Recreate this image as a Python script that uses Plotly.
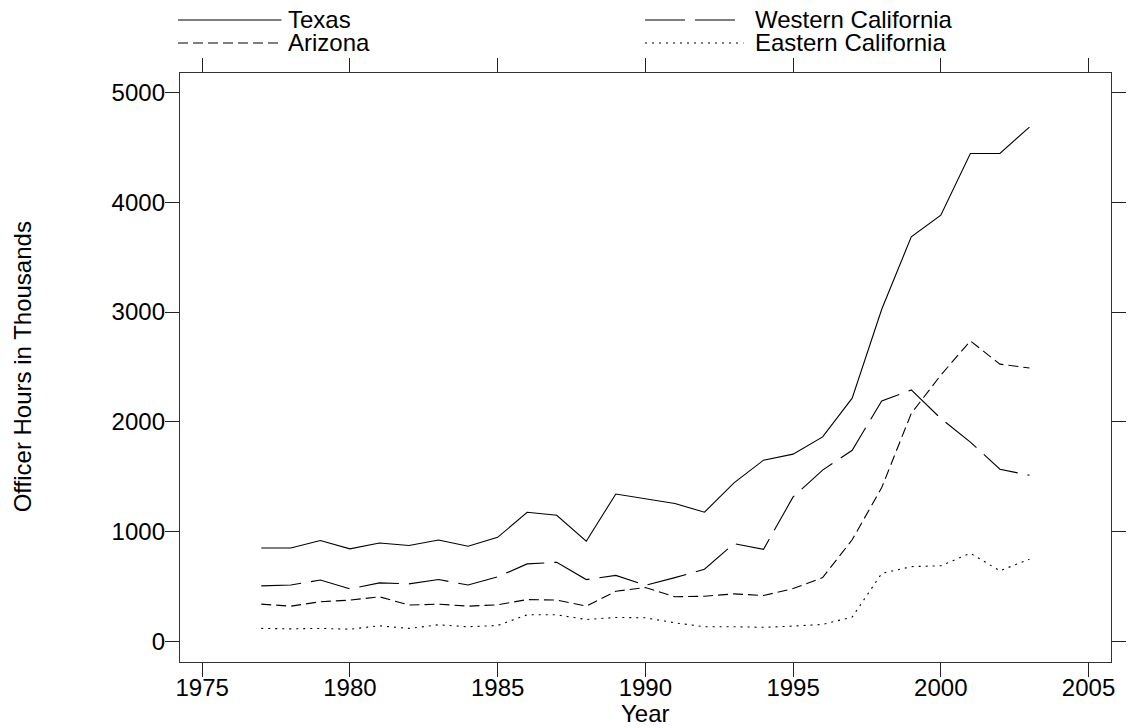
import plotly.graph_objects as go

years = list(range(1977, 2004))
texas = [850, 850, 918, 842, 895, 872, 922, 866, 947, 1175, 1148, 912, 1342, 1300, 1255,
         1176, 1443, 1650, 1705, 1862, 2215, 3025, 3685, 3882, 4445, 4445, 4685]
western_ca = [505, 513, 558, 477, 532, 523, 562, 513, 587, 705, 720, 562, 600, 510, 580,
              656, 890, 838, 1315, 1560, 1740, 2190, 2290, 2030, 1815, 1568, 1512]
arizona = [338, 320, 360, 375, 405, 330, 338, 320, 332, 380, 375, 320, 455, 490, 405,
           410, 432, 417, 480, 580, 925, 1400, 2076, 2425, 2737, 2525, 2490]
eastern_ca = [117, 113, 117, 110, 141, 117, 150, 132, 144, 241, 241, 198, 217, 214, 168,
              132, 132, 127, 138, 153, 220, 618, 680, 688, 802, 642, 748]

x_ticks = [1975, 1980, 1985, 1990, 1995, 2000, 2005]
y_ticks = [0, 1000, 2000, 3000, 4000, 5000]

series = [
    ("Texas", texas, "solid"),
    ("Arizona", arizona, "10px,5px"),
    ("Western California", western_ca, "40px,10px"),
    ("Eastern California", eastern_ca, "2px,5px"),
]

W, H = 1138, 728
L, R, T, B = 180, 1125, 73, 662
FONT = "Liberation Sans, Arial, Helvetica, sans-serif"
XR = [1974.25, 2005.76]
YR = [-189, 5178]

fig = go.Figure()
for name, vals, dash in series:
    fig.add_trace(go.Scatter(x=years, y=vals, mode="lines", name=name,
                             line=dict(color="black", width=1.1, dash=dash),
                             showlegend=False))
# empty trace to hold the label-only overlay axes
fig.add_trace(go.Scatter(x=[None], y=[None], xaxis="x2", yaxis="y2", mode="lines",
                         showlegend=False, hoverinfo="skip"))

def px2paper(px, py):
    return (px - L) / (R - L), (B - py) / (B - T)

# custom lattice-style legend
legend_items = [
    ("Texas", "solid", 178, 283, 288, 20),
    ("Arizona", "10px,5px", 178, 283, 288, 43),
    ("Western California", "40px,10px", 652, 752, 762, 20),
    ("Eastern California", "2px,5px", 652, 752, 762, 43),
]
shapes = []
annotations = []
for name, dash, x0, x1, xt, yy in legend_items:
    p0x, p0y = px2paper(x0, yy)
    p1x, _ = px2paper(x1, yy)
    ptx, _ = px2paper(xt, yy)
    shapes.append(dict(type="line", xref="paper", yref="paper", x0=p0x, x1=p1x,
                       y0=p0y, y1=p0y, line=dict(color="black", width=1.1, dash=dash)))
    annotations.append(dict(text=name, xref="paper", yref="paper", x=ptx, y=p0y,
                            xanchor="left", yanchor="middle", showarrow=False,
                            font=dict(size=24, color="black", family=FONT)))

# axis titles
yx, yy = px2paper(652, 713)
annotations.append(dict(text="Year", xref="paper", yref="paper", x=yx, y=yy,
                        xanchor="center", yanchor="middle", showarrow=False,
                        font=dict(size=24, color="black", family=FONT)))
tx, ty = px2paper(20, 367)
annotations.append(dict(text="Officer Hours in Thousands", xref="paper", yref="paper",
                        x=tx, y=ty, xanchor="center", yanchor="middle", textangle=-90,
                        showarrow=False, font=dict(size=24, color="black", family=FONT)))

tick_axis = dict(showline=True, linecolor="#333333", linewidth=1.3, mirror="ticks",
                 ticks="outside", ticklen=14, tickwidth=1.1, tickcolor="#222222",
                 showgrid=False, zeroline=False, showticklabels=False)
label_axis = dict(showline=False, ticks="", showgrid=False, zeroline=False,
                  showticklabels=True, tickfont=dict(size=24, color="black", family=FONT))

fig.update_layout(
    width=W, height=H,
    margin=dict(l=L, r=W - R, t=T, b=H - B, pad=0),
    paper_bgcolor="white", plot_bgcolor="white",
    xaxis=dict(range=XR, tickvals=x_ticks, **tick_axis),
    yaxis=dict(range=YR, tickvals=y_ticks, **tick_axis),
    xaxis2=dict(range=XR, tickvals=x_ticks, overlaying="x", anchor="y2", side="bottom",
                ticklabelstandoff=9, **label_axis),
    yaxis2=dict(range=YR, tickvals=y_ticks, overlaying="y", anchor="x2", side="left",
                ticklabelstandoff=14, **label_axis),
    shapes=shapes,
    annotations=annotations,
    showlegend=False,
    font=dict(family=FONT, color="black"),
)

fig.write_html("out.html", config={"displayModeBar": False},
               post_script="document.body.style.margin='0px';document.body.style.overflow='hidden';")
